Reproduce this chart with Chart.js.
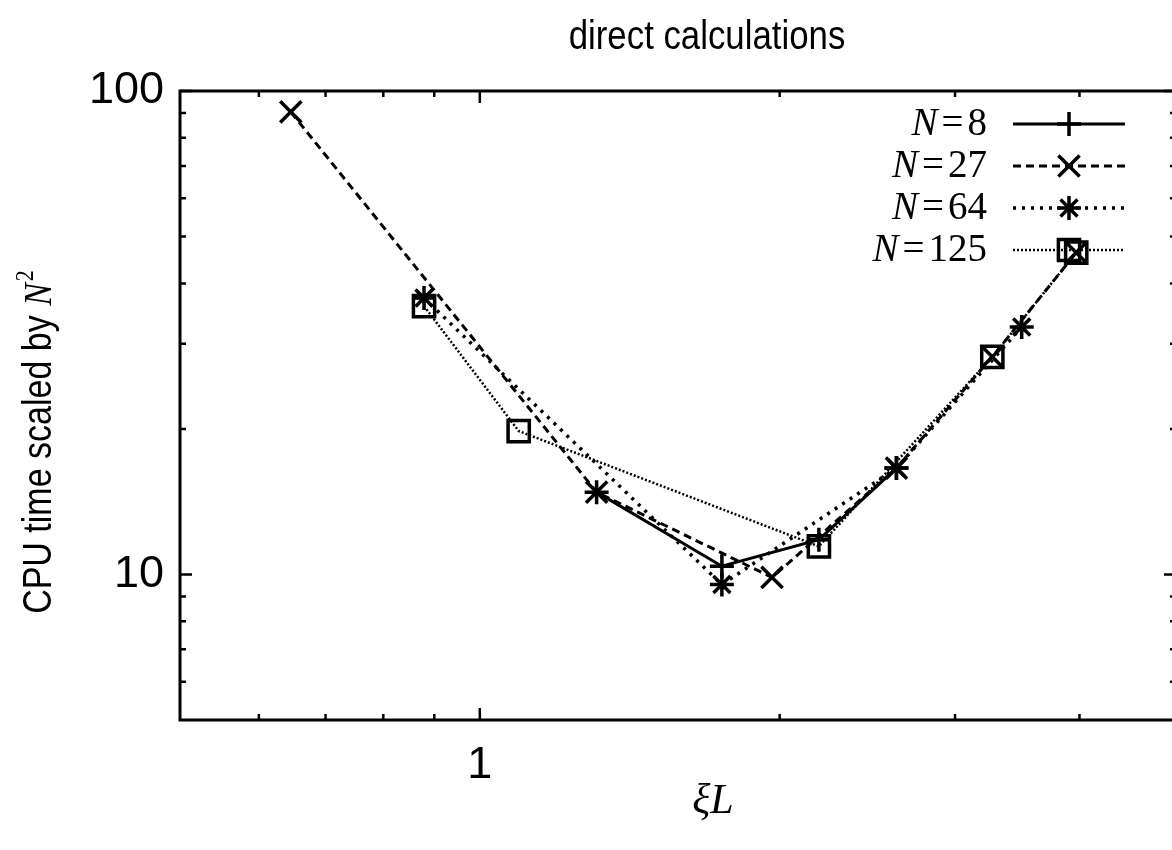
<!DOCTYPE html>
<html>
<head>
    <title>direct calculations</title>
    <script src="https://cdn.jsdelivr.net/npm/chart.js"></script>
    <style>
        html, body { margin: 0; padding: 0; background: #fff; overflow: hidden; }
        #wrap { width: 1180px; height: 850px; }
        #cpuChart { display: block; width: 1180px; height: 850px; }
    </style>
</head>
<body>
    <div id="wrap"><canvas id="cpuChart" width="1180" height="850"></canvas></div>

    <script>
        // xi*L values and CPU time / N^2 for each system size
        const xi8 = [1.31, 1.75, 2.19, 2.62];
        const cpu8 = [14.8, 10.4, 11.8, 16.6];
        const xi27 = [0.646, 1.31, 1.965, 2.62, 3.27, 3.97];
        const cpu27 = [90.5, 14.8, 9.86, 16.6, 28.2, 46.3];
        const xi64 = [0.879, 1.75, 2.62, 3.5];
        const cpu64 = [37.3, 9.53, 16.6, 32.5];
        const xi125 = [0.879, 1.094, 2.19, 3.27, 3.97];
        const cpu125 = [35.9, 19.8, 11.43, 28.2, 46.3];

        const seriesNames = ['8', '27', '64', '125'];

        // tick positions
        const xTicks = [0.6, 0.7, 0.8, 0.9, 1, 2, 3, 4, 5];
        const xMajor = [1];
        const yTicks = [6, 7, 8, 9, 10, 20, 30, 40, 50, 60, 70, 80, 90, 100];
        const yMajor = [10, 100];
        const yLabels = [10, 100];

        const pts = (xs, ys) => xs.map((x, i) => ({ x: x, y: ys[i] }));

        const styles = [
            { dash: [], width: 3, point: 'cross', radius: 12 },
            { dash: [8, 5], width: 3, point: 'crossRot', radius: 15 },
            { dash: [3, 6], width: 3.5, point: 'star', radius: 12 },
            { dash: [2, 2], width: 2.5, point: 'rect', radius: 15 }
        ];

        const SANS = '"Liberation Sans", Arial, sans-serif';
        const SERIF = '"Liberation Serif", "Times New Roman", serif';

        function drawMarker(ctx, type, x, y, r) {
            ctx.beginPath();
            if (type === 'cross' || type === 'star') {
                ctx.moveTo(x - r, y); ctx.lineTo(x + r, y);
                ctx.moveTo(x, y - r); ctx.lineTo(x, y + r);
            }
            if (type === 'crossRot' || type === 'star') {
                const d = r * Math.SQRT1_2;
                ctx.moveTo(x - d, y - d); ctx.lineTo(x + d, y + d);
                ctx.moveTo(x - d, y + d); ctx.lineTo(x + d, y - d);
            }
            if (type === 'rect') {
                const s = r * Math.SQRT1_2;
                ctx.rect(x - s, y - s, 2 * s, 2 * s);
            }
            ctx.stroke();
        }

        // text squeezed along its writing direction
        function narrowText(ctx, txt, x, y, sx) {
            ctx.save();
            ctx.translate(x, y);
            ctx.scale(sx, 1);
            ctx.fillText(txt, 0, 0);
            ctx.restore();
        }

        // border box and inward gnuplot-style ticks
        const framePlugin = {
            id: 'frame',
            beforeDatasetsDraw(chart) {
                const ctx = chart.ctx;
                const a = chart.chartArea;
                const xs = chart.scales.x, ys = chart.scales.y;
                ctx.save();
                ctx.strokeStyle = '#000';
                ctx.lineWidth = 3;
                ctx.strokeRect(a.left, a.top, a.right - a.left, a.bottom - a.top);
                ctx.lineWidth = 2.5;
                ctx.beginPath();
                xTicks.forEach(v => {
                    const px = xs.getPixelForValue(v);
                    const len = xMajor.includes(v) ? 12 : 6;
                    ctx.moveTo(px, a.bottom); ctx.lineTo(px, a.bottom - len);
                    ctx.moveTo(px, a.top); ctx.lineTo(px, a.top + len);
                });
                yTicks.forEach(v => {
                    const py = ys.getPixelForValue(v);
                    const len = yMajor.includes(v) ? 12 : 6;
                    ctx.moveTo(a.left, py); ctx.lineTo(a.left + len, py);
                    ctx.moveTo(a.right, py); ctx.lineTo(a.right - len, py);
                });
                ctx.stroke();
                ctx.restore();
            },
            afterDraw(chart) {
                const ctx = chart.ctx;
                const a = chart.chartArea;
                const xs = chart.scales.x, ys = chart.scales.y;
                ctx.save();
                ctx.fillStyle = '#000';
                ctx.strokeStyle = '#000';

                // tick labels
                ctx.font = '45px ' + SANS;
                ctx.textAlign = 'right';
                ctx.textBaseline = 'middle';
                yLabels.forEach(v => ctx.fillText(String(v), a.left - 16, ys.getPixelForValue(v)));
                ctx.textAlign = 'center';
                ctx.fillText('1', xs.getPixelForValue(1), 766);

                // title
                ctx.font = '40px ' + SANS;
                narrowText(ctx, 'direct calculations', 707, 38, 0.87);

                // x axis title
                ctx.font = 'italic 42px ' + SERIF;
                ctx.fillText('\u03beL', 713, 802);

                // y axis title, rotated
                ctx.translate(40, 442);
                ctx.rotate(-Math.PI / 2);
                ctx.textAlign = 'left';
                const k = 0.85;
                const sans = '40px ' + SANS;
                const serifI = 'italic 40px ' + SERIF;
                const sup = '26px ' + SERIF;
                const part1 = 'CPU time scaled by ';
                ctx.font = sans; const w1 = ctx.measureText(part1).width * k;
                ctx.font = serifI; const w2 = ctx.measureText('N').width * k;
                ctx.font = sup; const w3 = ctx.measureText('2').width * k;
                let px = -(w1 + w2 + w3 + 2) / 2;
                ctx.font = sans; narrowText(ctx, part1, px, 0, k); px += w1;
                ctx.font = serifI; narrowText(ctx, 'N', px, 0, k); px += w2 + 2;
                ctx.font = sup; narrowText(ctx, '2', px, -14, k);
                ctx.setTransform(1, 0, 0, 1, 0, 0);

                // key, top right inside the box
                const rowY = [124, 166, 208, 250];
                const textRight = 987;
                seriesNames.forEach((n, i) => {
                    const y = rowY[i];
                    ctx.textBaseline = 'middle';
                    ctx.textAlign = 'right';
                    ctx.font = '39px ' + SERIF;
                    const wn = ctx.measureText(n).width;
                    const weq = ctx.measureText('=').width;
                    ctx.fillText(n, textRight, y + 1);
                    ctx.fillText('=', textRight - wn - 4, y + 1);
                    ctx.font = 'italic 39px ' + SERIF;
                    ctx.fillText('N', textRight - wn - weq - 8, y + 1);

                    const s = styles[i];
                    ctx.lineWidth = s.width;
                    ctx.setLineDash(s.dash);
                    ctx.beginPath();
                    ctx.moveTo(1013, y); ctx.lineTo(1125, y);
                    ctx.stroke();
                    ctx.setLineDash([]);
                    ctx.lineWidth = 3.5;
                    drawMarker(ctx, s.point, 1069, y, s.radius);
                });
                ctx.restore();
            }
        };

        const sets = [[xi8, cpu8], [xi27, cpu27], [xi64, cpu64], [xi125, cpu125]];

        const cpuChart = new Chart(document.getElementById('cpuChart').getContext('2d'), {
            type: 'line',
            data: {
                datasets: sets.map((d, i) => ({
                    label: 'N=' + seriesNames[i],
                    data: pts(d[0], d[1]),
                    borderColor: '#000',
                    borderWidth: styles[i].width,
                    borderDash: styles[i].dash,
                    pointStyle: styles[i].point,
                    pointRadius: styles[i].radius,
                    pointBorderWidth: 3.5,
                    pointBorderColor: '#000',
                    pointBackgroundColor: 'rgba(0,0,0,0)',
                    fill: false,
                    tension: 0,
                    clip: false
                }))
            },
            options: {
                responsive: false,
                animation: false,
                devicePixelRatio: 1,
                layout: {
                    autoPadding: false,
                    padding: { left: 180, top: 91, right: 4, bottom: 130 }
                },
                plugins: { legend: { display: false }, tooltip: { enabled: false } },
                scales: {
                    x: { type: 'logarithmic', min: 0.5, max: 5, display: false },
                    y: { type: 'logarithmic', min: 5, max: 100, display: false }
                }
            },
            plugins: [framePlugin]
        });
    </script>
</body>
</html>
